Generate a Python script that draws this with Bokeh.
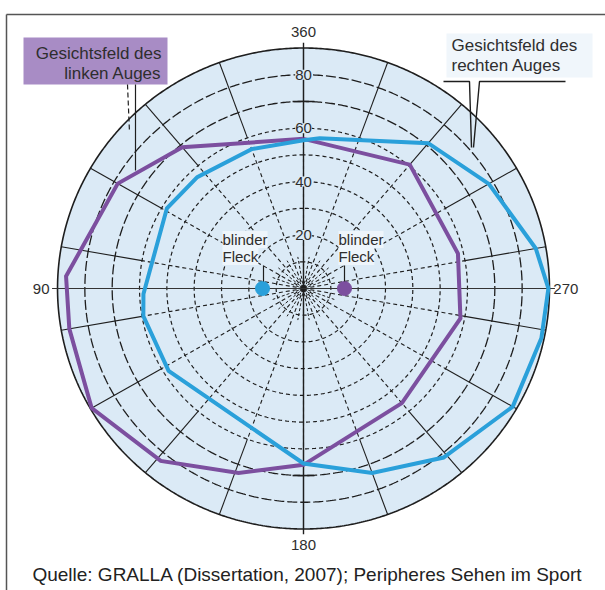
import numpy as np
from bokeh.plotting import figure
from bokeh.models import Range1d, Label
from bokeh.embed import file_html
from bokeh.resources import INLINE

# ---------------- data (visual field, degrees; angle label counter-clockwise from top) -------------
left_theta = [0, 40, 60, 87, 100, 120, 141, 161, 180, 220, 259, 283, 320, 360]
left_r = [56, 69, 78.5, 87, 87, 89.5, 83, 73, 66, 56, 58.5, 58, 60.5, 56]

right_theta = [0, 20, 43, 59, 92, 100, 122, 180, 200, 219, 240, 258, 270, 280, 300, 320, 354, 360]
right_r = [55.5, 55.5, 57, 58.3, 58.6, 59.5, 58.2, 65.5, 73.5, 81.4, 88.4, 89, 89.6, 86.3, 78.3, 71, 56.5, 55.5]

blind_theta = [90, 270]          # right eye (blue), left eye (purple)
blind_r = [15, 15]

ring_values = [10, 20, 30, 40, 50, 60, 70, 80, 90]
ring_labels = ["80", "60", "40", "20"]
ring_label_values = [80, 60, 40, 20]
axis_angle_labels = ["360", "90", "180", "270"]
axis_angles = [0, 90, 180, 270]

# ---------------- layout ----------------
W, H = 605, 590
SX, SY = 2.733, 2.672      # px per degree
CX, CY = 303, 288          # centre in figure px (from top-left)

PURPLE = "#7c4f9f"
BLUE = "#2aa0da"
DISC = "#dbeaf6"
INK = "#1e1e1e"
TXT = "#2e2e2e"
FONT = "Liberation Sans"


def pol(r, th):
    r = np.asarray(r, dtype=float)
    t = np.radians(np.asarray(th, dtype=float))
    return -r * np.sin(t), r * np.cos(t)


def px(xr, yr):
    # reference-image pixel -> data coordinates
    return (xr - CX) / SX, (CY - yr) / SY


p = figure(width=W, height=H, output_backend="svg", toolbar_location=None,
           x_range=Range1d(-CX / SX, (W - CX) / SX),
           y_range=Range1d(-(H - CY) / SY, CY / SY),
           x_axis_location=None, y_axis_location=None, min_border=0)
p.grid.visible = False
p.outline_line_color = None
p.background_fill_color = "white"
p.border_fill_color = "white"

# frame lines of the original figure
bx0, by0 = px(6, 14)
bx1, by1 = px(605, 14)
bxb, byb = px(6, 600)
p.line([bx0, bx1], [by0, by1], line_color="#555555", line_width=1.5)
p.line([bx0, bxb], [by0, byb], line_color="#555555", line_width=1.5)

# disc
tt = np.linspace(0, 360, 721)
dx, dy = pol(np.full_like(tt, ring_values[-1]), tt)
p.patch(dx, dy, fill_color=DISC, line_color=None)

# rings
for rv in ring_values:
    rx, ry = pol(np.full_like(tt, rv), tt)
    if rv == ring_values[-1]:
        p.line(rx, ry, line_color=INK, line_width=1.6)
    elif rv >= 70:
        p.line(rx, ry, line_color=INK, line_width=1.3, line_dash="10 3")
    else:
        p.line(rx, ry, line_color=INK, line_width=1.2, line_dash="4 3")

# spokes
for a in range(0, 360, 20):
    x0, y0 = pol([0, 60], [a, a])
    p.line(x0, y0, line_color=INK, line_width=1.1, line_dash="4 3")
    x1, y1 = pol([60, 90], [a, a])
    p.line(x1, y1, line_color=INK, line_width=1.1)
for a in range(10, 360, 20):
    x0, y0 = pol([0, 12], [a, a])
    p.line(x0, y0, line_color=INK, line_width=1.0, line_dash="3 2")

# main axes
ax, ay = pol([-92, 92], [0, 0])
p.line(ax, ay, line_color=INK, line_width=1.4)
ax, ay = pol([-92, 92], [90, 90])
p.line(ax, ay, line_color="#333333", line_width=1.1)
for a in [0, 180]:
    cx_, cy_ = pol([70], [a])
    p.line([cx_[0] - 4, cx_[0] + 4], [cy_[0], cy_[0]], line_color=INK, line_width=1.6)

# visual fields
lx, ly = pol(left_r, left_theta)
p.line(lx, ly, line_color=PURPLE, line_width=4, line_join="miter")
rx, ry = pol(right_r, right_theta)
p.line(rx, ry, line_color=BLUE, line_width=4, line_join="miter")

# blind spots
bxs, bys = pol(blind_r, blind_theta)
p.scatter(bxs[:1], bys[:1], size=14, color=BLUE)
p.scatter(bxs[1:], bys[1:], size=14, color=PURPLE)

# ring labels
for lab, rv in zip(ring_labels, ring_label_values):
    lxp, lyp = pol([rv], [0])
    p.add_layout(Label(x=lxp[0], y=lyp[0], text=lab, text_font=FONT, text_font_size="15px",
                       text_color=TXT, text_align="center", text_baseline="middle",
                       background_fill_color=DISC))

# axis angle labels
for lab, a in zip(axis_angle_labels, axis_angles):
    axp, ayp = pol([96], [a])
    p.add_layout(Label(x=axp[0], y=ayp[0], text=lab, text_font=FONT, text_font_size="15px",
                       text_color=TXT, text_align="center", text_baseline="middle"))

# left-eye legend box
bx_a, by_a = px(23, 37)
bx_b, by_b = px(167, 84)
p.quad(left=bx_a, right=bx_b, top=by_a, bottom=by_b, fill_color="#a88cc5", line_color=None)
for txt, yy in [("Gesichtsfeld des", 53), ("linken Auges", 73)]:
    tx, ty = px(161, yy)
    p.add_layout(Label(x=tx, y=ty, text=txt, text_font=FONT, text_font_size="17px",
                       text_color=TXT, text_align="right", text_baseline="middle"))
l1 = [px(127, 84), px(129, 132)]
p.line([l1[0][0], l1[1][0]], [l1[0][1], l1[1][1]], line_color=INK, line_width=1.2, line_dash="5 3")
l2 = [px(135, 84), px(135, 170)]
p.line([l2[0][0], l2[1][0]], [l2[0][1], l2[1][1]], line_color=INK, line_width=1.2)

# right-eye legend
rb_a, rb_b = px(446, 33), px(592, 77)
p.quad(left=rb_a[0], right=rb_b[0], top=rb_a[1], bottom=rb_b[1], fill_color="#f0f6fb", line_color=None)
for txt, yy in [("Gesichtsfeld des", 45), ("rechten Auges", 65)]:
    tx, ty = px(451, yy)
    p.add_layout(Label(x=tx, y=ty, text=txt, text_font=FONT, text_font_size="17px",
                       text_color=TXT, text_align="left", text_baseline="middle"))
for seg in [[(443, 81), (469, 81), (471, 147)], [(565, 81), (479, 81), (473, 147)]]:
    pts = [px(a, b) for a, b in seg]
    p.line([q[0] for q in pts], [q[1] for q in pts], line_color=INK, line_width=1.4)

# blind spot labels
for x_txt, x_lead in [(222, 263), (338, 344)]:
    for txt, yy in [("blinder", 239), ("Fleck", 256)]:
        tx, ty = px(x_txt, yy)
        p.add_layout(Label(x=tx, y=ty, text=txt, text_font=FONT, text_font_size="15px",
                           text_color=TXT, text_align="left", text_baseline="middle",
                           background_fill_color="#eef5fb"))
    a0, a1 = px(x_lead, 265), px(x_lead, 281)
    p.line([a0[0], a1[0]], [a0[1], a1[1]], line_color=INK, line_width=1.2)

# caption
cx_, cy_ = px(307, 574)
p.add_layout(Label(x=cx_, y=cy_, text="Quelle: GRALLA (Dissertation, 2007); Peripheres Sehen im Sport",
                   text_font=FONT, text_font_size="19px", text_color="#222222",
                   text_align="center", text_baseline="middle"))

open("out.html", "w").write(file_html(p, INLINE))
